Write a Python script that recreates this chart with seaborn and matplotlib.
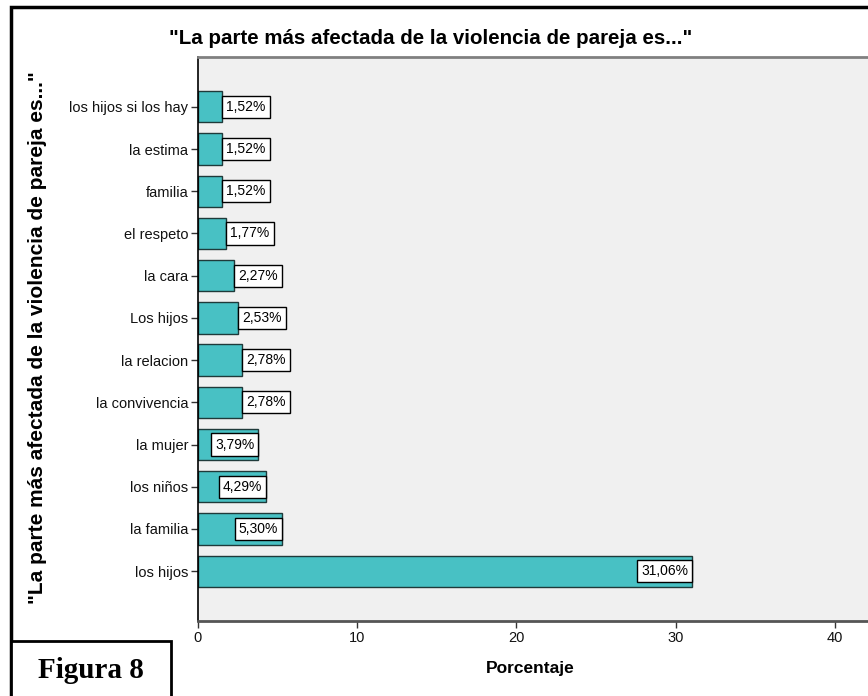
import matplotlib
matplotlib.use("Agg")
import matplotlib.pyplot as plt
import seaborn as sns
import pandas as pd
from matplotlib.patches import Rectangle

categories = ["los hijos si los hay", "la estima", "familia", "el respeto", "la cara",
              "Los hijos", "la relacion", "la convivencia", "la mujer", "los niños",
              "la familia", "los hijos"]
percentages = [1.52, 1.52, 1.52, 1.77, 2.27, 2.53, 2.78, 2.78, 3.79, 4.29, 5.30, 31.06]
x_ticks = [0, 10, 20, 30, 40]

title_text = '"La parte más afectada de la violencia de pareja es..."'
xlabel_text = "Porcentaje"
ylabel_text = '"La parte más afectada de la violencia de pareja es..."'
fig_label = "Figura 8"

sns.set_theme(style="white")
plt.rcParams["font.family"] = ["Liberation Sans", "DejaVu Sans"]
plt.rcParams["text.color"] = "black"

df = pd.DataFrame({"cat": [f"{i}" for i in range(len(categories))], "pct": percentages})

W, H = 868, 696
fig = plt.figure(figsize=(W / 100, H / 100), dpi=100)
fig.patch.set_facecolor("white")

ax = fig.add_axes([198 / W, 1 - 621 / H, (W - 198) / W, (621 - 57) / H])
ax.set_facecolor("#F0F0F0")

sns.barplot(data=df, x="pct", y="cat", orient="h", color="#48C1C4",
            saturation=1, width=0.74, edgecolor="#1f3a3a", linewidth=1.0, ax=ax)

ax.set_xlim(0, (W - 198) / 15.92)
ax.set_ylim(len(categories) - 1 + 1.18, -1.18)
ax.set_xticks(x_ticks)
ax.set_xticklabels([str(t) for t in x_ticks], fontsize=10.5, color="#111111")
ax.set_yticks(range(len(categories)))
ax.set_yticklabels(categories, fontsize=10.5, color="#111111")
ax.set_xlabel("")
ax.set_ylabel("")
ax.tick_params(axis="both", which="both", direction="out", length=5, width=1,
               color="#333333", pad=2, left=True, bottom=True)

ax.spines["left"].set_color("black")
ax.spines["left"].set_linewidth(1.2)
ax.spines["bottom"].set_color("#555555")
ax.spines["bottom"].set_linewidth(2)
ax.spines["top"].set_color("#808080")
ax.spines["top"].set_linewidth(2)
ax.spines["right"].set_visible(False)

for i, v in enumerate(percentages):
    txt = f"{v:.2f}".replace(".", ",") + "%"
    inside = v > 3.0
    ax.annotate(txt, xy=(v, i), xytext=(-3.0 if inside else 3.0, 0),
                textcoords="offset points", ha="right" if inside else "left",
                va="center", fontsize=10, color="black",
                bbox=dict(boxstyle="square,pad=0.3", facecolor="white",
                          edgecolor="black", linewidth=1))

fig.text(431 / W, 1 - 38 / H, title_text, ha="center", va="center", fontsize=14.8,
         fontweight="bold", color="black")
fig.text(38 / W, 1 - 338 / H, ylabel_text, ha="center", va="center", rotation=90,
         fontsize=15, fontweight="bold", color="black")
fig.text(530 / W, 1 - 668 / H, xlabel_text, ha="center", va="center", fontsize=12.5,
         fontweight="bold", color="black")

# outer frame
fig.patches.append(Rectangle((11 / W, -0.05), 1.1, 1 - 7 / H + 0.05,
                             transform=fig.transFigure, fill=False,
                             edgecolor="black", linewidth=2.5, zorder=10))
# Figura box
fig.patches.append(Rectangle((11 / W, -0.05), (171 - 11) / W, 1 - 641 / H + 0.05,
                             transform=fig.transFigure, facecolor="white",
                             edgecolor="black", linewidth=2, zorder=11))
fig.text(91 / W, 1 - 670 / H, fig_label, ha="center", va="center", fontsize=21,
         fontweight="bold", color="black",
         family=["Liberation Serif", "DejaVu Serif"], zorder=12)

fig.savefig("out.png", dpi=100)
